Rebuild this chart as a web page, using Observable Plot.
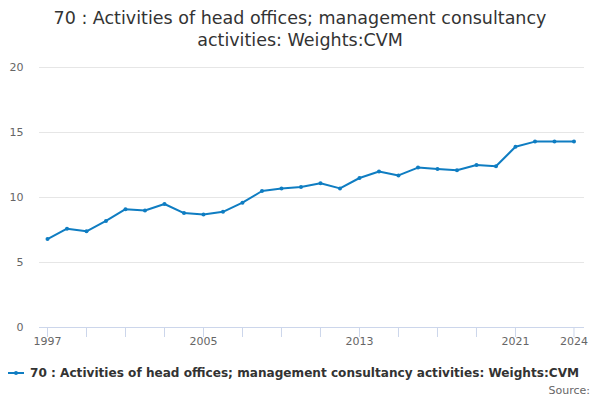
<!DOCTYPE html>
<html>
<head>
<meta charset="utf-8">
<script src="https://cdn.jsdelivr.net/npm/d3@7"></script>
<script src="https://cdn.jsdelivr.net/npm/@observablehq/plot@0.6"></script>
<style>
  html, body { margin: 0; padding: 0; background: #fff; }
  #wrap { width: 600px; height: 400px; position: relative; font-family: "DejaVu Sans", sans-serif; overflow: hidden; }
  #title { position: absolute; top: 7px; left: 0; width: 600px; text-align: center; font-size: 17.5px; line-height: 22px; color: #333; }
  #chart { position: absolute; top: 50px; left: 0; }
  #legend { position: absolute; top: 365px; left: 8px; font-size: 12.1px; font-weight: bold; color: #333; white-space: nowrap; line-height: 16px; }
  #legend svg { vertical-align: middle; margin-right: 6px; position: relative; top: -1px; }
  #source { position: absolute; top: 383px; right: 10px; font-size: 11px; color: #666; line-height: 16px; }
</style>
</head>
<body>
<div id="wrap">
  <div id="title">70 : Activities of head offices; management consultancy<br>activities: Weights:CVM</div>
  <div id="chart"></div>
  <div id="legend"></div>
  <div id="source">Source:</div>
</div>
<script>
const years = [1997,1998,1999,2000,2001,2002,2003,2004,2005,2006,2007,2008,2009,2010,2011,2012,2013,2014,2015,2016,2017,2018,2019,2020,2021,2022,2023,2024];
const values = [6.8,7.6,7.4,8.2,9.1,9.0,9.5,8.8,8.7,8.9,9.6,10.5,10.7,10.8,11.1,10.7,11.5,12.0,11.7,12.3,12.2,12.1,12.5,12.4,13.9,14.3,14.3,14.3];
const tickYears = [1997,1999,2001,2003,2005,2007,2009,2011,2013,2015,2017,2019,2021,2024];
const labelYears = [1997,2005,2013,2021,2024];
const yTicks = [0,5,10,15,20];
const seriesName = "70 : Activities of head offices; management consultancy activities: Weights:CVM";
const lineColor = "#0f7dc2";

const data = years.map((y, i) => ({year: y, value: values[i]}));

const chart = Plot.plot({
  width: 600,
  height: 300,
  marginTop: 17,
  marginBottom: 23,
  marginLeft: 39,
  marginRight: 16,
  style: {fontFamily: "DejaVu Sans, sans-serif", fontSize: "11px", background: "transparent", overflow: "visible"},
  x: {domain: [1996.59, 2024.54]},
  y: {domain: [0, 20]},
  marks: [
    Plot.gridY(yTicks.filter(d => d > 0), {stroke: "#e6e6e6", strokeOpacity: 1}),
    Plot.axisY(yTicks, {tickSize: 0, tickPadding: 16, fill: "#666", label: null}),
    Plot.ruleY([0], {stroke: "#ccd6eb"}),
    Plot.axisX(tickYears, {tickSize: 10, stroke: "#ccd6eb", strokeOpacity: 1, tickFormat: () => "", label: null}),
    Plot.axisX(labelYears, {tickSize: 0, tickPadding: 10, fill: "#666", tickFormat: d => String(d), label: null}),
    Plot.line(data, {x: "year", y: "value", stroke: lineColor, strokeWidth: 2}),
    Plot.dot(data, {x: "year", y: "value", fill: lineColor, r: 2})
  ]
});
document.getElementById("chart").appendChild(chart);

const legend = document.getElementById("legend");
legend.innerHTML = `<svg width="16" height="10"><line x1="0" y1="5" x2="16" y2="5" stroke="${lineColor}" stroke-width="2"/><circle cx="8" cy="5" r="2" fill="${lineColor}"/></svg>` + seriesName;
</script>
</body>
</html>
